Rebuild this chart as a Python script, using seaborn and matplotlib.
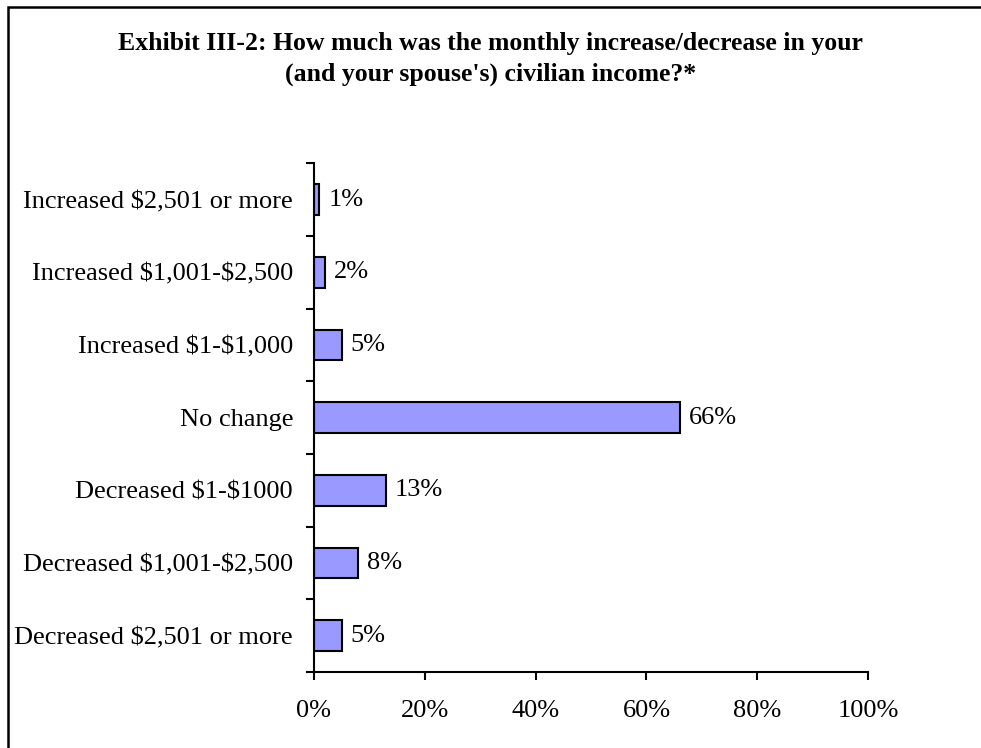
import matplotlib
matplotlib.use("Agg")
import matplotlib.pyplot as plt
import seaborn as sns
import pandas as pd
import numpy as np
from matplotlib.patches import Rectangle

# dados
categories = ["Increased $2,501 or more", "Increased $1,001-$2,500", "Increased $1-$1,000",
              "No change", "Decreased $1-$1000", "Decreased $1,001-$2,500",
              "Decreased $2,501 or more"]
values = [1, 2, 5, 66, 13, 8, 5]
xticks = [0, 20, 40, 60, 80, 100]

data = pd.DataFrame({"Category": categories, "Percent": values})

sns.set_style("white", {"text.color": "black", "xtick.color": "black", "ytick.color": "black",
                        "axes.labelcolor": "black"})
plt.rcParams["font.family"] = ["Liberation Serif", "DejaVu Serif"]

fig = plt.figure(figsize=(9.81, 7.48), dpi=100)
ax = fig.add_axes([0.320, 0.1016, 0.565, 0.680])

sns.barplot(data=data, x="Percent", y="Category", order=categories, color="#9999FF",
            saturation=1, width=0.42, edgecolor="black", linewidth=1.5, ax=ax)

for i, v in enumerate(values):
    ax.text(v + 1.6, i, f"{v}%", va="center", ha="left", fontsize=19, color="black")

ax.set_xlim(0, 100)
ax.set_ylim(len(categories) - 0.5, -0.5)
ax.set_xticks(xticks)
ax.set_xticklabels([f"{t}%" for t in xticks], fontsize=19)
ax.set_yticks(range(len(categories)))
# escapar o $ para não virar mathtext
ax.set_yticklabels([c.replace("$", r"\$") for c in categories], fontsize=19)
ax.set_yticks(np.arange(-0.5, len(categories)), minor=True)
ax.tick_params(axis="y", which="major", length=0, pad=15)
ax.tick_params(axis="y", which="minor", length=6, width=1.5, direction="out", left=True)
ax.tick_params(axis="x", length=6, width=1.5, direction="out", bottom=True, pad=14)
ax.set_xlabel("")
ax.set_ylabel("")
sns.despine(ax=ax)
for s in ["left", "bottom"]:
    ax.spines[s].set_linewidth(1.5)
    ax.spines[s].set_color("black")

fig.text(0.5, 0.921, "Exhibit III-2: How much was the monthly increase/decrease in your\n(and your spouse's) civilian income?*",
         ha="center", va="center", fontsize=18.5, fontweight="bold", linespacing=1.45, color="black")

# moldura (só esquerda e topo visíveis, o resto sai da imagem)
fig.patches.append(Rectangle((8 / 981, -0.05), 1.1, 1.05 - 7 / 748, transform=fig.transFigure,
                             fill=False, edgecolor="black", linewidth=1.8))

fig.savefig("out.png", dpi=100)
